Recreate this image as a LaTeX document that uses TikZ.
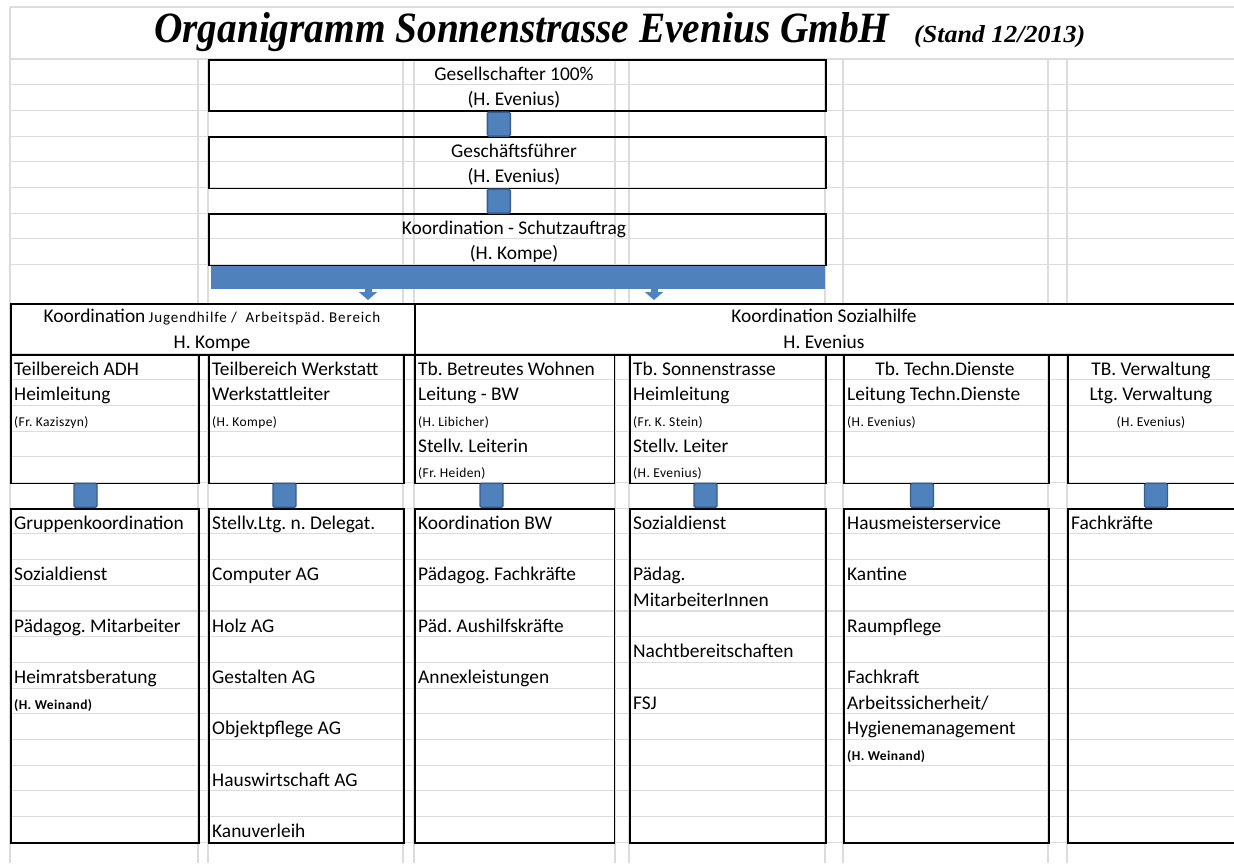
\documentclass[tikz,border=0pt]{standalone}
\usepackage{graphicx}
\usepackage{fontspec}
\setmainfont{Carlito}
\newfontfamily\titlefont{Liberation Serif}
\newfontfamily\notefont{Carlito}[LetterSpace=3]
\newfontfamily\widefont{Carlito}[LetterSpace=6]
\usetikzlibrary{positioning,calc,arrows.meta}
\frenchspacing

\definecolor{cellblue}{HTML}{4F81BD}
\definecolor{celledge}{HTML}{385D8A}
\definecolor{gridgray}{HTML}{DCDCDC}

\tikzset{
  gridline/.style={draw=gridgray, line width=1.1pt},
  box/.style={draw=black, line width=1.6pt, inner sep=0pt, anchor=north west},
  cell/.style={anchor=base west, inner sep=0pt, font=\fontsize{19.4}{22}\selectfont},
  cellc/.style={cell, anchor=base},
  note/.style={anchor=base west, inner sep=0pt, font=\notefont\fontsize{13.5}{15}\selectfont},
  notec/.style={note, anchor=base},
  bnote/.style={note, font=\notefont\fontsize{13.5}{15}\selectfont\bfseries},
  link/.style={draw=celledge, fill=cellblue, line width=1.4pt, rounded corners=1.5pt,
    inner sep=0pt, minimum width=23pt, minimum height=24pt},
  bluebar/.style={fill=cellblue, inner sep=0pt, anchor=north west},
  barlink/.style={draw=cellblue, line width=7pt,
    -{Triangle[width=18pt,length=8pt]}, shorten >=3pt},
}

\begin{document}
\begin{tikzpicture}[x=1pt, y=-1pt]
\useasboundingbox (0,0) rectangle (1234,863);

% sheet grid
\draw[gridline] (10,7) -- (1234,7);
\draw[gridline] (10,7) -- (10,863);
\foreach \k in {0,...,8}
  \draw[gridline] (10,{59+25.7*\k}) -- (1234,{59+25.7*\k});
\foreach \k in {0,...,19}
  \draw[gridline] (10,{354+25.7*\k}) -- (1234,{354+25.7*\k});
\foreach \x in {198,208,403,414,615,629,825,843,1048,1067} {
  \draw[gridline] (\x,59) -- (\x,303);
  \draw[gridline] (\x,354) -- (\x,863);
}

% title
\node[anchor=base west, inner sep=0pt] (title) at (154,42)
  {\resizebox{735pt}{30pt}{\titlefont\bfseries\itshape Organigramm Sonnenstrasse Evenius GmbH}};
\node[anchor=base west, inner sep=0pt] (stand) at (914,42)
  {\resizebox{171pt}{17pt}{\titlefont\bfseries\itshape (Stand 12/2013)}};

% upper chain
\node[box, minimum width=617pt, minimum height=51.4pt] (gs) at (208,59) {};
\node[box, minimum width=617pt, minimum height=51.4pt] (gf) at (208,136.1) {};
\node[box, minimum width=617pt, minimum height=51.4pt] (ks) at (208,213.2) {};
\node[link] (l1) at ($(gs.south)!.5!(gf.north)+(-18.5,0)$) {};
\node[link] (l2) at ($(gf.south)!.5!(ks.north)+(-18.5,0)$) {};

\node[cellc] (t-gs1) at (514,80) {Gesellschafter 100\%};
\node[cellc] (t-gs2) at (514,105.7) {(H. Evenius)};
\node[cellc] (t-gf1) at (514,157.1) {Geschäftsführer};
\node[cellc] (t-gf2) at (514,182.8) {(H. Evenius)};
\node[cellc] (t-ks1) at (514,234.2) {Koordination - Schutzauftrag};
\node[cellc] (t-ks2) at (514,259.9) {(H. Kompe)};

% distribution bar
\node[bluebar, minimum width=614pt, minimum height=23pt] (bar) at (211,265.4) {};
\coordinate (a1) at (368,0);
\coordinate (a2) at (654,0);

% coordination row
\node[box, minimum width=404pt, minimum height=51pt] (kjh) at (10,303) {};
\node[box, minimum width=840pt, minimum height=51pt] (ksh) at (414,303) {};
\draw[barlink] (bar.south -| a1) -- (kjh.north -| a1);
\draw[barlink] (bar.south -| a2) -- (ksh.north -| a2);

\node[cellc] (t-kjh1) at (212,322)
  {Koordination\,{\widefont\fontsize{15}{17}\selectfont Jugendhilfe /\ \ Arbeitspäd. Bereich}};
\node[cellc] (t-kjh2) at (212,348.5) {H. Kompe};
\node[cellc] (t-ksh1) at (824,322) {Koordination Sozialhilfe};
\node[cellc] (t-ksh2) at (824,348.5) {H. Evenius};

% Teilbereiche and their staff columns
\foreach \n/\x/\w in {1/10/188, 2/208/195, 3/414/199.5, 4/629/196, 5/843/205, 6/1067/190} {
  \node[box, minimum width=\w pt, minimum height=128.5pt] (tb\n) at (\x,354) {};
  \node[box, minimum width=\w pt, minimum height=334.1pt] (ub\n) at (\x,508.2) {};
}
\foreach \n/\x in {1/85.5, 2/284.5, 3/491.5, 4/705.5, 5/922, 6/1156}
  \node[link] (m\n) at (\x,495.35) {};

\node[cell] (t1-0) at (14,375) {Teilbereich ADH};
\node[cell] (t1-1) at (14,400.7) {Heimleitung};
\node[note] (t1-2) at (14,426.4) {(Fr. Kaziszyn)};

\node[cell] (t2-0) at (212,375) {Teilbereich Werkstatt};
\node[cell] (t2-1) at (212,400.7) {Werkstattleiter};
\node[note] (t2-2) at (212,426.4) {(H. Kompe)};

\node[cell] (t3-0) at (418,375) {Tb. Betreutes Wohnen};
\node[cell] (t3-1) at (418,400.7) {Leitung - BW};
\node[note] (t3-2) at (418,426.4) {(H. Libicher)};
\node[cell] (t3-3) at (418,452.1) {Stellv. Leiterin};
\node[note] (t3-4) at (418,477.8) {(Fr. Heiden)};

\node[cell] (t4-0) at (633,375) {Tb. Sonnenstrasse};
\node[cell] (t4-1) at (633,400.7) {Heimleitung};
\node[note] (t4-2) at (633,426.4) {(Fr. K. Stein)};
\node[cell] (t4-3) at (633,452.1) {Stellv. Leiter};
\node[note] (t4-4) at (633,477.8) {(H. Evenius)};

\node[cellc] (t5-0) at (945,375) {Tb. Techn.Dienste};
\node[cell] (t5-1) at (847,400.7) {Leitung Techn.Dienste};
\node[note] (t5-2) at (847,426.4) {(H. Evenius)};

\node[cellc] (t6-0) at (1151,375) {TB. Verwaltung};
\node[cellc] (t6-1) at (1151,400.7) {Ltg. Verwaltung};
\node[notec] (t6-2) at (1151,426.4) {(H. Evenius)};

\foreach \r/\txt in {0/Gruppenkoordination, 2/Sozialdienst, 4/Pädagog. Mitarbeiter, 6/Heimratsberatung}
  \node[cell] (u1-\r) at (14,{529.2+25.7*\r}) {\txt};
\node[bnote] (u1-7) at (14,709.1) {(H. Weinand)};

\foreach \r/\txt in {0/Stellv.Ltg. n. Delegat., 2/Computer AG, 4/Holz AG, 6/Gestalten AG,
    8/Objektpflege AG, 10/Hauswirtschaft AG, 12/Kanuverleih}
  \node[cell] (u2-\r) at (212,{529.2+25.7*\r}) {\txt};

\foreach \r/\txt in {0/Koordination BW, 2/Pädagog. Fachkräfte, 4/Päd. Aushilfskräfte, 6/Annexleistungen}
  \node[cell] (u3-\r) at (418,{529.2+25.7*\r}) {\txt};

\foreach \r/\txt in {0/Sozialdienst, 2/Pädag., 3/MitarbeiterInnen, 5/Nachtbereitschaften, 7/FSJ}
  \node[cell] (u4-\r) at (633,{529.2+25.7*\r}) {\txt};

\foreach \r/\txt in {0/Hausmeisterservice, 2/Kantine, 4/Raumpflege, 6/Fachkraft, 8/Hygienemanagement}
  \node[cell] (u5-\r) at (847,{529.2+25.7*\r}) {\txt};
\node[cell] (u5-7) at (847,709.1) {Arbeitssicherheit/};
\node[bnote] (u5-9) at (847,760.5) {(H. Weinand)};

\node[cell] (u6-0) at (1071,529.2) {Fachkräfte};
\end{tikzpicture}
\end{document}
